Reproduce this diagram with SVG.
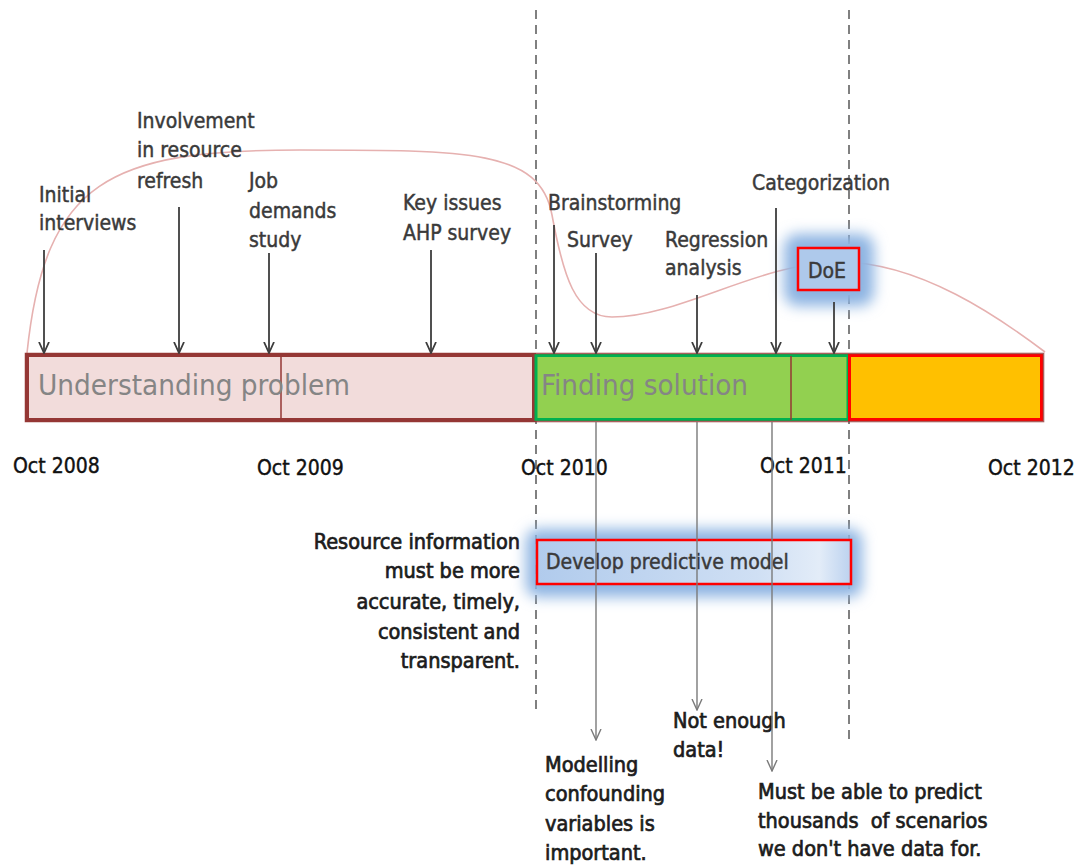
<svg xmlns="http://www.w3.org/2000/svg" width="1085" height="865" viewBox="0 0 1085 865">
  <style>
    .lbl { font-family: "DejaVu Sans Condensed", "DejaVu Sans", sans-serif; font-stretch: condensed; font-size: 21px; fill: #3a3a3a; stroke: #3a3a3a; stroke-width: 0.45; }
    .note { font-family: "DejaVu Sans Condensed", "DejaVu Sans", sans-serif; font-stretch: condensed; font-size: 21.5px; fill: #1c1c1c; stroke: #1c1c1c; stroke-width: 0.7; white-space: pre; }
    .date { font-family: "DejaVu Sans Condensed", "DejaVu Sans", sans-serif; font-stretch: condensed; font-size: 21px; fill: #111; stroke: #111; stroke-width: 0.4; }
    .phase { font-family: "DejaVu Sans Condensed", "DejaVu Sans", sans-serif; font-stretch: condensed; font-size: 29px; fill: #858585; }
    .dash { stroke: #808080; stroke-width: 2; stroke-dasharray: 9 6; fill: none; }
    .up { stroke: #3d3d3d; stroke-width: 1.8; fill: none; marker-end: url(#headDark); }
    .down { stroke: #7a7a7a; stroke-width: 1.4; fill: none; marker-end: url(#headGrey); }
    .divider { stroke: #953735; stroke-width: 1.5; }
    .redbox { fill: none; stroke: #ff0000; stroke-width: 2.5; }
    .glow { fill: #8db4e2; filter: url(#soft); }
  </style>
  <defs>
    <filter id="soft" x="-30%" y="-60%" width="160%" height="220%">
      <feGaussianBlur stdDeviation="7"/>
    </filter>
    <linearGradient id="boxFill" x1="0" y1="0" x2="1" y2="0">
      <stop offset="0" stop-color="#b7cfee"/>
      <stop offset="0.7" stop-color="#dbe7f7"/>
      <stop offset="0.9" stop-color="#f2f6fc"/>
      <stop offset="1" stop-color="#c4d7f1"/>
    </linearGradient>
    <marker id="headDark" viewBox="0 0 12 12" refX="11" refY="6" markerWidth="12" markerHeight="12" markerUnits="userSpaceOnUse" orient="auto">
      <path d="M0,1 L11,6 L0,11" fill="none" stroke="#3d3d3d" stroke-width="1.8"/>
    </marker>
    <marker id="headGrey" viewBox="0 0 12 12" refX="11" refY="6" markerWidth="12" markerHeight="12" markerUnits="userSpaceOnUse" orient="auto">
      <path d="M0,1 L11,6 L0,11" fill="none" stroke="#7a7a7a" stroke-width="1.4"/>
    </marker>
  </defs>

  <rect width="1085" height="865" fill="#ffffff"/>

  <!-- phase boundaries -->
  <g id="boundaries">
    <line class="dash" x1="536" y1="10" x2="536" y2="712"/>
    <line class="dash" x1="849" y1="10" x2="849" y2="740"/>
  </g>

  <!-- effort curve over the project -->
  <path id="effort-curve" d="M27,353 C45,180 110,150 300,150 C470,150 540,150 552,215 C563,275 575,317 612,317 C680,317 760,262 840,262 C920,262 1000,318 1045,352" fill="none" stroke="#e6b1b0" stroke-width="1.6"/>

  <!-- timeline bar -->
  <g id="timeline-bar">
    <rect x="27" y="355" width="507" height="65" fill="#f2dcdb" stroke="#953735" stroke-width="4"/>
    <rect x="536" y="355.5" width="312" height="64" fill="#92d050" stroke="#00b050" stroke-width="3"/>
    <rect x="849.5" y="355.5" width="192" height="64" fill="#ffc000" stroke="#ff0000" stroke-width="3"/>
    <rect x="25.5" y="353.5" width="1018" height="68" fill="none" stroke="#953735" stroke-width="1.6" stroke-opacity="0.8"/>
    <line class="divider" x1="281" y1="356" x2="281" y2="420"/>
    <line class="divider" x1="791" y1="356" x2="791" y2="420"/>
    <text class="phase" x="38" y="395" textLength="312" lengthAdjust="spacingAndGlyphs">Understanding problem</text>
    <text class="phase" x="541" y="395" textLength="207" lengthAdjust="spacingAndGlyphs">Finding solution</text>
  </g>

  <!-- dates -->
  <g id="dates">
    <text class="date" x="13" y="473">Oct 2008</text>
    <text class="date" x="257" y="475">Oct 2009</text>
    <text class="date" x="521" y="475">Oct 2010</text>
    <text class="date" x="760" y="473">Oct 2011</text>
    <text class="date" x="988" y="475">Oct 2012</text>
  </g>

  <!-- milestones above the bar -->
  <g id="initial-interviews"><text class="lbl" x="39" y="202">Initial</text><text class="lbl" x="39" y="230">interviews</text></g>
  <g id="involvement"><text class="lbl" x="137" y="128">Involvement</text><text class="lbl" x="137" y="157">in resource</text><text class="lbl" x="137" y="188">refresh</text></g>
  <g id="job-demands"><text class="lbl" x="249" y="188">Job</text><text class="lbl" x="249" y="218">demands</text><text class="lbl" x="249" y="247">study</text></g>
  <g id="key-issues"><text class="lbl" x="403" y="210">Key issues</text><text class="lbl" x="403" y="240">AHP survey</text></g>
  <g id="brainstorming"><text class="lbl" x="548" y="210">Brainstorming</text></g>
  <g id="survey"><text class="lbl" x="567" y="247">Survey</text></g>
  <g id="regression"><text class="lbl" x="665" y="247">Regression</text><text class="lbl" x="665" y="275">analysis</text></g>
  <g id="categorization"><text class="lbl" x="752" y="190">Categorization</text></g>
  <g id="doe">
    <rect class="glow" x="784" y="234" width="90" height="72" rx="14"/>
    <rect x="798" y="248" width="61" height="42" fill="#bcd2ef" opacity="0.7"/>
    <rect class="redbox" x="798" y="248" width="61" height="42"/>
    <text class="lbl" x="808" y="278">DoE</text>
  </g>

  <!-- notes below the bar -->
  <g id="develop-model">
    <rect class="glow" x="526" y="529" width="336" height="68" rx="12"/>
    <rect x="537" y="540" width="314" height="44" fill="url(#boxFill)" opacity="0.85"/>
    <rect class="redbox" x="537" y="540" width="314" height="44"/>
    <text class="lbl" x="546" y="569">Develop predictive model</text>
  </g>
  <g id="resource-note" text-anchor="end">
    <text class="note" x="520" y="549">Resource information</text>
    <text class="note" x="520" y="578">must be more</text>
    <text class="note" x="520" y="609">accurate, timely,</text>
    <text class="note" x="520" y="639">consistent and</text>
    <text class="note" x="520" y="668">transparent.</text>
  </g>
  <g id="modelling-note">
    <text class="note" x="545" y="772">Modelling</text>
    <text class="note" x="545" y="801">confounding</text>
    <text class="note" x="545" y="831">variables is</text>
    <text class="note" x="545" y="860">important.</text>
  </g>
  <g id="data-note">
    <text class="note" x="673" y="728">Not enough</text>
    <text class="note" x="673" y="757">data!</text>
  </g>
  <g id="predict-note">
    <text class="note" x="758" y="799">Must be able to predict</text>
    <text class="note" x="758" y="828">thousands  of scenarios</text>
    <text class="note" x="758" y="856">we don't have data for.</text>
  </g>

  <!-- connectors -->
  <g id="connectors">
    <line class="up" x1="44" y1="250" x2="44" y2="353"/>
    <line class="up" x1="179" y1="207" x2="179" y2="353"/>
    <line class="up" x1="269" y1="253" x2="269" y2="353"/>
    <line class="up" x1="431" y1="250" x2="431" y2="353"/>
    <line class="up" x1="554" y1="225" x2="554" y2="353"/>
    <line class="up" x1="596" y1="253" x2="596" y2="353"/>
    <line class="up" x1="697" y1="295" x2="697" y2="353"/>
    <line class="up" x1="776" y1="208" x2="776" y2="353"/>
    <line class="up" x1="834" y1="302" x2="834" y2="353"/>
    <line class="down" x1="596" y1="422" x2="596" y2="740"/>
    <line class="down" x1="697" y1="422" x2="697" y2="710"/>
    <line class="down" x1="772" y1="422" x2="772" y2="771"/>
  </g>
</svg>
